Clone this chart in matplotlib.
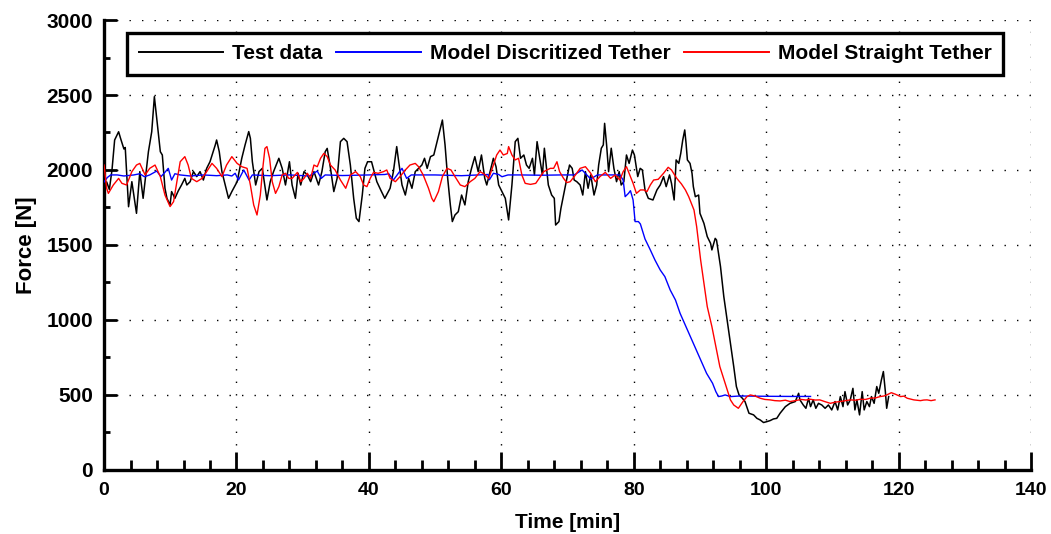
import numpy as np
import matplotlib
matplotlib.use("Agg")
import matplotlib.pyplot as plt
from matplotlib.ticker import MultipleLocator

# Measured tether force during the test run [min, N]
test_time = [0.0, 0.4, 0.8, 1.2, 1.6, 2.2, 2.5, 3.0, 3.2, 3.7, 4.2, 4.9, 5.4, 5.9, 6.7, 7.2, 7.6, 7.95,
             8.5, 8.8, 9.2, 9.5, 9.97, 10.2, 10.7, 11.2, 11.7, 12.2, 12.5, 13.0, 13.5, 14.0, 14.5, 15.0,
             15.5, 16.0, 16.8, 17.0, 17.4, 17.8, 18.3, 18.8, 19.3, 20.1, 20.8, 21.3, 21.85, 22.1, 22.4,
             22.9, 23.4, 23.9, 24.6, 25.1, 25.6, 26.4, 26.9, 27.4, 28.0, 28.4, 28.9, 29.3, 29.7, 30.2,
             30.7, 31.2, 31.7, 32.4, 32.9, 33.4, 33.7, 34.2, 34.7, 35.2, 35.7, 36.2, 36.7, 37.2, 37.7,
             38.1, 38.5, 39.0, 39.4, 39.8, 40.4, 41.2, 41.9, 42.4, 43.2, 43.7, 44.2, 44.5, 45.0, 45.5,
             46.0, 46.5, 47.0, 47.5, 48.0, 48.4, 48.8, 49.3, 49.8, 50.3, 50.8, 51.1, 51.5, 51.9, 52.3,
             52.6, 53.0, 53.5, 54.0, 54.5, 55.0, 55.5, 56.0, 56.5, 57.0, 57.5, 57.8, 58.3, 58.8, 59.2,
             59.6, 60.1, 60.6, 61.1, 61.6, 62.1, 62.5, 62.9, 63.4, 63.8, 64.2, 64.7, 65.0, 65.4, 65.8,
             66.2, 66.5, 67.1, 67.6, 68.0, 68.2, 68.7, 69.0, 69.4, 69.9, 70.3, 70.7, 71.0, 71.4, 71.9,
             72.3, 72.7, 73.1, 73.5, 74.0, 74.4, 74.7, 75.1, 75.4, 75.6, 75.9, 76.2, 76.6, 77.0, 77.4,
             77.8, 78.1, 78.5, 78.9, 79.3, 79.8, 80.1, 80.6, 80.97, 81.3, 81.7, 82.2, 82.9, 83.5, 84.0,
             84.5, 84.9, 85.4, 85.7, 86.1, 86.4, 86.8, 87.1, 87.4, 87.7, 87.9, 88.1, 88.5, 88.8, 89.0,
             89.3, 89.8, 90.0, 90.6, 91.1, 91.6, 91.8, 92.3, 92.5, 93.1, 93.6, 94.1, 94.6, 95.1, 95.5,
             95.9, 96.4, 96.8, 97.4, 98.1, 98.6, 99.1, 99.6, 100.1, 100.6, 101.1, 101.6, 102.1, 102.9,
             103.6, 104.4, 104.9, 105.1, 105.6, 106.0, 106.4, 106.7, 107.1, 107.5, 107.9, 108.4, 108.9,
             109.4, 109.9, 110.4, 110.8, 111.2, 111.6, 111.9, 112.3, 112.7, 113.1, 113.4, 113.7, 114.1,
             114.5, 114.8, 115.2, 115.6, 115.9, 116.3, 116.7, 117.0, 117.4, 117.7, 118.0, 118.2, 118.5]
test_force = [1850, 1920, 1870, 2000, 2200, 2255, 2210, 2140, 2150, 1755, 1922, 1711, 1989, 1811, 2122,
              2255, 2489, 2344, 2122, 2100, 1878, 1811, 1767, 1856, 1811, 1860, 1900, 1944, 1900, 1922,
              1989, 1956, 1989, 1933, 2011, 2055, 2167, 2200, 2122, 1989, 1900, 1811, 1856, 1922, 2078,
              2167, 2256, 2211, 2055, 1900, 1989, 2011, 1800, 1922, 1989, 2078, 2011, 1900, 2055, 1900,
              1811, 1978, 1900, 1989, 1967, 1922, 1989, 1900, 1989, 2122, 2144, 2011, 1856, 1944, 2189,
              2211, 2189, 2033, 1811, 1678, 1656, 1833, 2011, 2055, 2055, 1922, 1856, 1811, 1878, 1989,
              2156, 2055, 1900, 1833, 1944, 1878, 1989, 2011, 2033, 2078, 2011, 2089, 2100, 2189, 2278,
              2333, 2167, 1944, 1767, 1656, 1700, 1722, 1833, 1767, 1922, 2011, 2089, 1989, 2100, 1944,
              1900, 1989, 2078, 2022, 1900, 1856, 1811, 1667, 1900, 2189, 2211, 2078, 2100, 2033, 2011,
              2078, 1967, 2189, 2078, 1967, 2145, 1900, 1833, 1811, 1633, 1656, 1744, 1833, 1944, 2033,
              2011, 1933, 1922, 1900, 1833, 1989, 1878, 1967, 1833, 1900, 2033, 2145, 2167, 2311, 2167,
              1989, 2145, 2011, 1922, 1989, 1900, 1922, 2100, 2044, 2133, 2100, 1956, 2011, 2000, 1867,
              1811, 1800, 1867, 1900, 1956, 1889, 1967, 1911, 1800, 2067, 2044, 2111, 2200, 2267, 2178,
              2067, 2044, 1978, 1889, 1822, 1833, 1711, 1644, 1556, 1511, 1467, 1544, 1533, 1356, 1156,
              1000, 844, 689, 556, 500, 478, 456, 378, 367, 344, 333, 316, 322, 329, 340, 344, 378, 422,
              444, 456, 511, 467, 433, 411, 478, 422, 467, 411, 444, 433, 411, 433, 400, 456, 400, 489,
              422, 522, 433, 467, 544, 400, 467, 367, 522, 400, 456, 422, 489, 444, 556, 511, 600, 656,
              522, 411, 489]

# Simulated force, discretized tether model
disc_time = [0.0, 0.5, 1.0, 2.0, 3.0, 4.5, 5.4, 6.1, 6.9, 7.95, 8.6, 9.2, 9.7, 10.2, 10.7, 11.5, 13.0,
             15.0, 17.0, 18.6, 19.3, 19.8, 20.3, 21.1, 21.9, 22.4, 25.0, 28.0, 31.0, 32.2, 32.8, 33.4,
             36.0, 40.0, 42.4, 43.0, 43.7, 44.4, 45.0, 45.7, 46.4, 50.0, 54.0, 58.0, 58.2, 58.8, 59.6,
             60.1, 61.0, 63.0, 66.0, 69.0, 71.0, 72.2, 73.5, 74.5, 77.9, 78.4, 78.7, 79.2, 79.5, 79.9,
             80.2, 80.7, 81.0, 81.7, 82.5, 83.2, 84.0, 84.7, 85.5, 86.3, 87.0, 88.0, 89.0, 90.0, 91.0,
             91.9, 92.4, 92.8, 93.3, 93.8, 94.6, 96.0, 100.0, 104.0, 106.7]
disc_force = [1920, 1950, 1967, 1967, 1960, 1967, 1975, 1955, 1967, 1993, 1956, 1985, 2011, 1933, 1975,
              1967, 1960, 1967, 1962, 1967, 1960, 1978, 1933, 2000, 1933, 1967, 1962, 1967, 1960, 1993,
              1944, 1967, 1963, 1967, 1970, 1975, 1933, 1975, 2011, 1944, 1967, 1967, 1962, 1970, 1935,
              1978, 1970, 1955, 1967, 1967, 1965, 1967, 1967, 2000, 1940, 1967, 1967, 1933, 1822, 1844,
              1862, 1800, 1656, 1656, 1640, 1540, 1467, 1400, 1333, 1289, 1200, 1133, 1044, 944, 844,
              744, 644, 578, 522, 489, 493, 500, 489, 493, 491, 490, 490]

# Simulated force, straight tether model
straight_time = [0.0, 0.4, 0.65, 1.4, 2.2, 2.7, 3.4, 4.2, 4.9, 5.4, 6.2, 6.9, 7.7, 8.5, 9.2, 9.97, 10.5,
                 11.0, 11.5, 12.2, 12.7, 13.2, 14.0, 14.8, 15.5, 16.3, 17.0, 17.8, 18.5, 19.3, 20.1,
                 20.8, 21.6, 22.1, 22.6, 23.1, 23.6, 23.97, 24.3, 24.6, 25.0, 25.4, 25.9, 26.4, 26.9,
                 27.4, 27.9, 28.4, 29.2, 29.7, 30.2, 30.7, 31.2, 31.7, 32.2, 32.7, 33.2, 33.7, 34.2,
                 34.9, 35.7, 36.5, 37.2, 38.0, 38.7, 39.2, 39.7, 40.2, 40.7, 41.4, 42.2, 42.7, 43.2,
                 44.0, 44.7, 45.5, 46.2, 47.0, 47.5, 48.2, 49.0, 49.5, 49.8, 50.5, 51.1, 51.8, 52.4,
                 53.0, 53.8, 54.5, 55.3, 56.0, 56.8, 57.4, 58.1, 58.8, 59.3, 59.8, 60.3, 60.9, 61.1,
                 61.6, 62.1, 62.6, 63.1, 63.6, 64.4, 65.2, 65.7, 66.4, 67.4, 67.9, 68.4, 68.8, 69.4,
                 69.9, 70.4, 71.2, 71.9, 72.7, 73.5, 74.2, 74.9, 75.7, 76.5, 77.2, 77.9, 78.4, 78.9,
                 79.4, 79.9, 80.4, 81.0, 81.5, 82.0, 82.5, 83.0, 83.7, 84.5, 85.2, 85.7, 86.5, 87.2,
                 87.8, 88.3, 88.8, 89.1, 89.5, 89.8, 90.1, 90.6, 91.1, 91.8, 92.4, 93.0, 93.8, 94.6,
                 95.1, 95.8, 96.5, 97.1, 97.6, 98.3, 99.1, 99.8, 100.6, 101.3, 102.1, 102.9, 103.6,
                 104.4, 105.3, 106.0, 106.7, 107.4, 108.1, 108.9, 109.7, 110.4, 111.2, 112.0, 112.7,
                 113.5, 114.2, 115.0, 115.7, 116.5, 117.2, 117.8, 118.2, 118.9, 119.5, 120.3, 120.8,
                 121.3, 122.3, 123.3, 123.8, 124.3, 124.9, 125.5]
straight_force = [2033, 1878, 1844, 1900, 1944, 1911, 1900, 1989, 2033, 2044, 1967, 2011, 2033, 1956,
                  1833, 1756, 1789, 1922, 2055, 2089, 2033, 1944, 1922, 1944, 1989, 2044, 2011, 1956,
                  2033, 2089, 2044, 2022, 2011, 1900, 1767, 1700, 1833, 2011, 2144, 2156, 2078, 1922,
                  1844, 1889, 1967, 1978, 1944, 1944, 1984, 1922, 1944, 1978, 1944, 2033, 2022, 2078,
                  2111, 2089, 2033, 2000, 1933, 1878, 1967, 1989, 1956, 1900, 1889, 1944, 1984, 1978,
                  1989, 2000, 1944, 1922, 1956, 2000, 2033, 2044, 2022, 1967, 1878, 1811, 1789, 1856,
                  1956, 2011, 2000, 1956, 1900, 1889, 1922, 1944, 1989, 1973, 1944, 2033, 2100, 2133,
                  2100, 2110, 2156, 2100, 2067, 2078, 1967, 1911, 1904, 1911, 1944, 1989, 2011, 2011,
                  2055, 1989, 1944, 1916, 1922, 1967, 2011, 2022, 1978, 1922, 1956, 1984, 1944, 1967,
                  1933, 1989, 2022, 1967, 1911, 1844, 1867, 1867, 1856, 1900, 1933, 1938, 1978, 2018,
                  2000, 1944, 1907, 1867, 1822, 1767, 1733, 1622, 1511, 1400, 1244, 1089, 956, 822,
                  689, 578, 467, 433, 411, 456, 489, 500, 493, 478, 470, 467, 462, 460, 465, 456, 462,
                  470, 466, 471, 466, 467, 455, 444, 452, 456, 462, 467, 465, 471, 470, 478, 480, 489,
                  493, 500, 515, 505, 489, 492, 478, 467, 462, 466, 467, 462, 467]

series_labels = ["Test data", "Model Discritized Tether", "Model Straight Tether"]
series_colors = ["#000000", "#0000ff", "#ff0000"]

x_limits = (0, 140)
y_limits = (0, 3000)

plt.rcParams["font.family"] = ["Liberation Sans", "DejaVu Sans"]
plt.rcParams["font.weight"] = "bold"

fig = plt.figure(figsize=(10.51, 5.34), dpi=100)
ax = fig.add_axes([0.099, 0.12, 0.882, 0.8425])

ax.plot(test_time, test_force, color=series_colors[0], lw=1.1, label=series_labels[0], zorder=3)
ax.plot(disc_time, disc_force, color=series_colors[1], lw=1.0, label=series_labels[1], zorder=4)
ax.plot(straight_time, straight_force, color=series_colors[2], lw=1.0, label=series_labels[2], zorder=5)

ax.set_xlim(*x_limits)
ax.set_ylim(*y_limits)
ax.xaxis.set_major_locator(MultipleLocator(20))
ax.xaxis.set_minor_locator(MultipleLocator(4))
ax.yaxis.set_major_locator(MultipleLocator(500))
ax.yaxis.set_minor_locator(MultipleLocator(250))

for side in ("top", "right"):
    ax.spines[side].set_visible(False)
for side in ("left", "bottom"):
    ax.spines[side].set_linewidth(2.4)

ax.tick_params(axis="x", which="major", direction="in", length=13, width=2.0, pad=9, labelsize=14)
ax.tick_params(axis="x", which="minor", direction="in", length=7, width=2.0)
ax.tick_params(axis="y", which="major", direction="in", length=9, width=2.0, pad=8, labelsize=15)
ax.tick_params(axis="y", which="minor", direction="in", length=4.5, width=2.0)

ax.grid(True, which="major", color="black", linestyle=(0, (1, 8)), linewidth=1.0)
ax.set_axisbelow(True)

ax.set_xlabel("Time [min]", fontsize=15, fontweight="bold", labelpad=10)
ax.set_ylabel("Force [N]", fontsize=16, fontweight="bold", labelpad=7)

leg = ax.legend(loc="upper center", bbox_to_anchor=(0.4975, 0.972), ncol=3, fontsize=15,
                frameon=True, fancybox=False, edgecolor="black", framealpha=1.0,
                handlelength=4.05, handletextpad=0.45, columnspacing=0.65,
                borderpad=0.55, borderaxespad=0.0)
leg.get_frame().set_linewidth(2.4)
for line in leg.get_lines():
    line.set_linewidth(1.4)

fig.savefig("out.png", dpi=100)
